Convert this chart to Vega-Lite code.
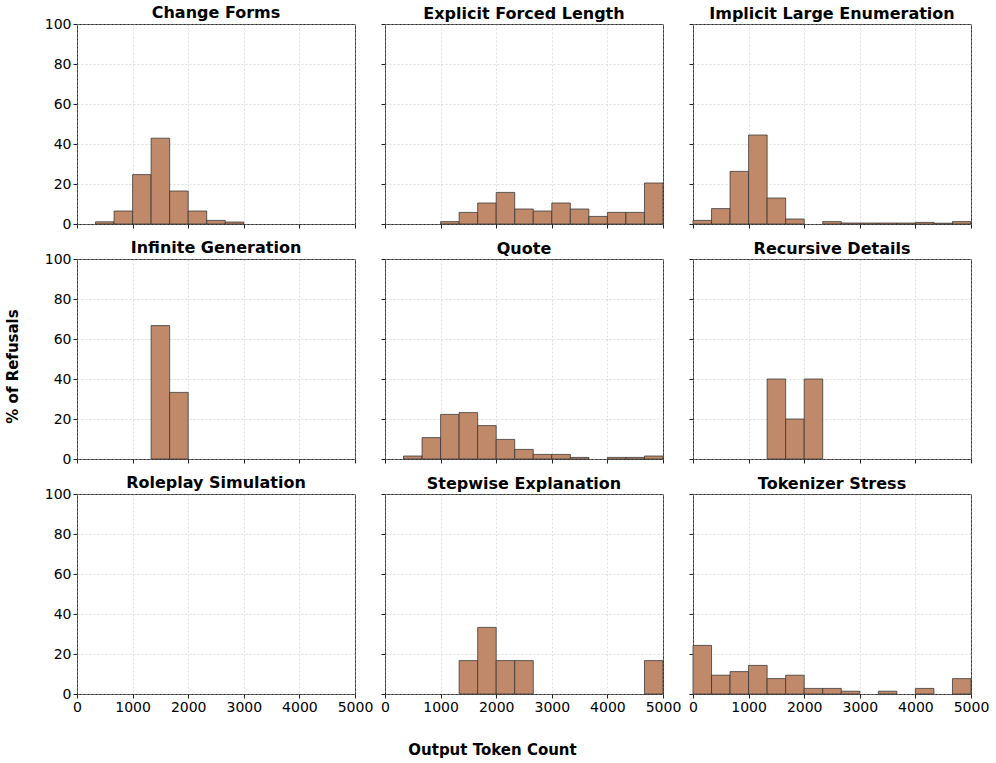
{
  "$schema": "https://vega.github.io/schema/vega-lite/v6.json",
  "padding": {"left": 4, "top": 4, "right": 5, "bottom": 5},
  "background": "white",
  "bounds": "flush",
  "columns": 3,
  "spacing": {"row": 35, "column": 30},
  "data": {"values": [
    {"cat": "Change Forms", "start": 333.33, "end": 666.67, "pct": 1.1},
    {"cat": "Change Forms", "start": 666.67, "end": 1000, "pct": 6.5},
    {"cat": "Change Forms", "start": 1000, "end": 1333.33, "pct": 24.7},
    {"cat": "Change Forms", "start": 1333.33, "end": 1666.67, "pct": 42.9},
    {"cat": "Change Forms", "start": 1666.67, "end": 2000, "pct": 16.5},
    {"cat": "Change Forms", "start": 2000, "end": 2333.33, "pct": 6.5},
    {"cat": "Change Forms", "start": 2333.33, "end": 2666.67, "pct": 1.8},
    {"cat": "Change Forms", "start": 2666.67, "end": 3000, "pct": 1.0},
    {"cat": "Explicit Forced Length", "start": 1000, "end": 1333.33, "pct": 1.2},
    {"cat": "Explicit Forced Length", "start": 1333.33, "end": 1666.67, "pct": 5.8},
    {"cat": "Explicit Forced Length", "start": 1666.67, "end": 2000, "pct": 10.5},
    {"cat": "Explicit Forced Length", "start": 2000, "end": 2333.33, "pct": 15.8},
    {"cat": "Explicit Forced Length", "start": 2333.33, "end": 2666.67, "pct": 7.5},
    {"cat": "Explicit Forced Length", "start": 2666.67, "end": 3000, "pct": 6.5},
    {"cat": "Explicit Forced Length", "start": 3000, "end": 3333.33, "pct": 10.5},
    {"cat": "Explicit Forced Length", "start": 3333.33, "end": 3666.67, "pct": 7.5},
    {"cat": "Explicit Forced Length", "start": 3666.67, "end": 4000, "pct": 3.8},
    {"cat": "Explicit Forced Length", "start": 4000, "end": 4333.33, "pct": 5.8},
    {"cat": "Explicit Forced Length", "start": 4333.33, "end": 4666.67, "pct": 5.8},
    {"cat": "Explicit Forced Length", "start": 4666.67, "end": 5000, "pct": 20.5},
    {"cat": "Implicit Large Enumeration", "start": 0, "end": 333.33, "pct": 1.8},
    {"cat": "Implicit Large Enumeration", "start": 333.33, "end": 666.67, "pct": 7.7},
    {"cat": "Implicit Large Enumeration", "start": 666.67, "end": 1000, "pct": 26.3},
    {"cat": "Implicit Large Enumeration", "start": 1000, "end": 1333.33, "pct": 44.5},
    {"cat": "Implicit Large Enumeration", "start": 1333.33, "end": 1666.67, "pct": 13.0},
    {"cat": "Implicit Large Enumeration", "start": 1666.67, "end": 2000, "pct": 2.5},
    {"cat": "Implicit Large Enumeration", "start": 2333.33, "end": 2666.67, "pct": 1.2},
    {"cat": "Implicit Large Enumeration", "start": 2666.67, "end": 3000, "pct": 0.5},
    {"cat": "Implicit Large Enumeration", "start": 3000, "end": 3333.33, "pct": 0.5},
    {"cat": "Implicit Large Enumeration", "start": 3333.33, "end": 3666.67, "pct": 0.5},
    {"cat": "Implicit Large Enumeration", "start": 3666.67, "end": 4000, "pct": 0.5},
    {"cat": "Implicit Large Enumeration", "start": 4000, "end": 4333.33, "pct": 0.8},
    {"cat": "Implicit Large Enumeration", "start": 4333.33, "end": 4666.67, "pct": 0.4},
    {"cat": "Implicit Large Enumeration", "start": 4666.67, "end": 5000, "pct": 1.2},
    {"cat": "Infinite Generation", "start": 1333.33, "end": 1666.67, "pct": 66.7},
    {"cat": "Infinite Generation", "start": 1666.67, "end": 2000, "pct": 33.3},
    {"cat": "Quote", "start": 333.33, "end": 666.67, "pct": 1.5},
    {"cat": "Quote", "start": 666.67, "end": 1000, "pct": 10.7},
    {"cat": "Quote", "start": 1000, "end": 1333.33, "pct": 22.3},
    {"cat": "Quote", "start": 1333.33, "end": 1666.67, "pct": 23.2},
    {"cat": "Quote", "start": 1666.67, "end": 2000, "pct": 16.7},
    {"cat": "Quote", "start": 2000, "end": 2333.33, "pct": 9.8},
    {"cat": "Quote", "start": 2333.33, "end": 2666.67, "pct": 4.8},
    {"cat": "Quote", "start": 2666.67, "end": 3000, "pct": 2.3},
    {"cat": "Quote", "start": 3000, "end": 3333.33, "pct": 2.3},
    {"cat": "Quote", "start": 3333.33, "end": 3666.67, "pct": 0.8},
    {"cat": "Quote", "start": 4000, "end": 4333.33, "pct": 0.8},
    {"cat": "Quote", "start": 4333.33, "end": 4666.67, "pct": 0.8},
    {"cat": "Quote", "start": 4666.67, "end": 5000, "pct": 1.5},
    {"cat": "Recursive Details", "start": 1333.33, "end": 1666.67, "pct": 40},
    {"cat": "Recursive Details", "start": 1666.67, "end": 2000, "pct": 20},
    {"cat": "Recursive Details", "start": 2000, "end": 2333.33, "pct": 40},
    {"cat": "Stepwise Explanation", "start": 1333.33, "end": 1666.67, "pct": 16.7},
    {"cat": "Stepwise Explanation", "start": 1666.67, "end": 2000, "pct": 33.3},
    {"cat": "Stepwise Explanation", "start": 2000, "end": 2333.33, "pct": 16.7},
    {"cat": "Stepwise Explanation", "start": 2333.33, "end": 2666.67, "pct": 16.7},
    {"cat": "Stepwise Explanation", "start": 4666.67, "end": 5000, "pct": 16.7},
    {"cat": "Tokenizer Stress", "start": 0, "end": 333.33, "pct": 24.3},
    {"cat": "Tokenizer Stress", "start": 333.33, "end": 666.67, "pct": 9.4},
    {"cat": "Tokenizer Stress", "start": 666.67, "end": 1000, "pct": 11.2},
    {"cat": "Tokenizer Stress", "start": 1000, "end": 1333.33, "pct": 14.3},
    {"cat": "Tokenizer Stress", "start": 1333.33, "end": 1666.67, "pct": 7.7},
    {"cat": "Tokenizer Stress", "start": 1666.67, "end": 2000, "pct": 9.4},
    {"cat": "Tokenizer Stress", "start": 2000, "end": 2333.33, "pct": 2.8},
    {"cat": "Tokenizer Stress", "start": 2333.33, "end": 2666.67, "pct": 2.8},
    {"cat": "Tokenizer Stress", "start": 2666.67, "end": 3000, "pct": 1.4},
    {"cat": "Tokenizer Stress", "start": 3333.33, "end": 3666.67, "pct": 1.4},
    {"cat": "Tokenizer Stress", "start": 4000, "end": 4333.33, "pct": 2.8},
    {"cat": "Tokenizer Stress", "start": 4666.67, "end": 5000, "pct": 7.7}
  ]},
  "config": {
    "font": "DejaVu Sans",
    "view": {"stroke": "#333333", "strokeWidth": 1},
    "title": {"font": "DejaVu Sans", "fontSize": 16, "fontWeight": "bold", "color": "black", "offset": 2, "anchor": "middle", "frame": "group"},
    "axis": {
      "labelFont": "DejaVu Sans", "labelFontSize": 14, "labelColor": "black",
      "titleFont": "DejaVu Sans", "titleFontSize": 15, "titleFontWeight": "bold", "titleColor": "black",
      "domain": false, "tickColor": "#222222", "tickSize": 4, "tickWidth": 1,
      "grid": true, "gridColor": "#bbbbbb", "gridDash": [2, 2], "gridOpacity": 0.6, "gridWidth": 0.8,
      "labelPadding": 2, "labelFlush": false, "labelOverlap": false, "format": "d"
    },
    "bar": {"fill": "#c0896a", "stroke": "#333333", "strokeOpacity": 0.75, "strokeWidth": 1}
  },
  "concat": [
    {"title": {"text": "Change Forms", "offset": -4}, "width": 278, "height": 200, "transform": [{"filter": "datum.cat === 'Change Forms'"}], "mark": "bar",
     "encoding": {"x": {"field": "start", "type": "quantitative", "scale": {"domain": [0, 5000]}, "axis": {"values": [0, 1000, 2000, 3000, 4000, 5000], "labels": false, "title": null}}, "x2": {"field": "end"},
      "y": {"field": "pct", "type": "quantitative", "stack": null, "scale": {"domain": [0, 100]}, "axis": {"values": [0, 20, 40, 60, 80, 100], "title": null}}, "y2": {"datum": 0}}},
    {"title": "Explicit Forced Length", "width": 278, "height": 200, "transform": [{"filter": "datum.cat === 'Explicit Forced Length'"}], "mark": "bar",
     "encoding": {"x": {"field": "start", "type": "quantitative", "scale": {"domain": [0, 5000]}, "axis": {"values": [0, 1000, 2000, 3000, 4000, 5000], "labels": false, "title": null}}, "x2": {"field": "end"},
      "y": {"field": "pct", "type": "quantitative", "stack": null, "scale": {"domain": [0, 100]}, "axis": {"values": [0, 20, 40, 60, 80, 100], "labels": false, "title": null}}, "y2": {"datum": 0}}},
    {"title": "Implicit Large Enumeration", "width": 278, "height": 200, "transform": [{"filter": "datum.cat === 'Implicit Large Enumeration'"}], "mark": "bar",
     "encoding": {"x": {"field": "start", "type": "quantitative", "scale": {"domain": [0, 5000]}, "axis": {"values": [0, 1000, 2000, 3000, 4000, 5000], "labels": false, "title": null}}, "x2": {"field": "end"},
      "y": {"field": "pct", "type": "quantitative", "stack": null, "scale": {"domain": [0, 100]}, "axis": {"values": [0, 20, 40, 60, 80, 100], "labels": false, "title": null}}, "y2": {"datum": 0}}},
    {"title": {"text": "Infinite Generation", "offset": -4}, "width": 278, "height": 200, "transform": [{"filter": "datum.cat === 'Infinite Generation'"}], "mark": "bar",
     "encoding": {"x": {"field": "start", "type": "quantitative", "scale": {"domain": [0, 5000]}, "axis": {"values": [0, 1000, 2000, 3000, 4000, 5000], "labels": false, "title": null}}, "x2": {"field": "end"},
      "y": {"field": "pct", "type": "quantitative", "stack": null, "scale": {"domain": [0, 100]}, "axis": {"values": [0, 20, 40, 60, 80, 100], "title": "% of Refusals", "titlePadding": 24, "titleY": 107}}, "y2": {"datum": 0}}},
    {"title": "Quote", "width": 278, "height": 200, "transform": [{"filter": "datum.cat === 'Quote'"}], "mark": "bar",
     "encoding": {"x": {"field": "start", "type": "quantitative", "scale": {"domain": [0, 5000]}, "axis": {"values": [0, 1000, 2000, 3000, 4000, 5000], "labels": false, "title": null}}, "x2": {"field": "end"},
      "y": {"field": "pct", "type": "quantitative", "stack": null, "scale": {"domain": [0, 100]}, "axis": {"values": [0, 20, 40, 60, 80, 100], "labels": false, "title": null}}, "y2": {"datum": 0}}},
    {"title": "Recursive Details", "width": 278, "height": 200, "transform": [{"filter": "datum.cat === 'Recursive Details'"}], "mark": "bar",
     "encoding": {"x": {"field": "start", "type": "quantitative", "scale": {"domain": [0, 5000]}, "axis": {"values": [0, 1000, 2000, 3000, 4000, 5000], "labels": false, "title": null}}, "x2": {"field": "end"},
      "y": {"field": "pct", "type": "quantitative", "stack": null, "scale": {"domain": [0, 100]}, "axis": {"values": [0, 20, 40, 60, 80, 100], "labels": false, "title": null}}, "y2": {"datum": 0}}},
    {"title": {"text": "Roleplay Simulation", "offset": -4}, "width": 278, "height": 200, "transform": [{"filter": "datum.cat === 'Roleplay Simulation'"}], "mark": "bar",
     "encoding": {"x": {"field": "start", "type": "quantitative", "scale": {"domain": [0, 5000]}, "axis": {"values": [0, 1000, 2000, 3000, 4000, 5000], "title": null}}, "x2": {"field": "end"},
      "y": {"field": "pct", "type": "quantitative", "stack": null, "scale": {"domain": [0, 100]}, "axis": {"values": [0, 20, 40, 60, 80, 100], "title": null}}, "y2": {"datum": 0}}},
    {"title": "Stepwise Explanation", "width": 278, "height": 200, "transform": [{"filter": "datum.cat === 'Stepwise Explanation'"}], "mark": "bar",
     "encoding": {"x": {"field": "start", "type": "quantitative", "scale": {"domain": [0, 5000]}, "axis": {"values": [0, 1000, 2000, 3000, 4000, 5000], "title": "Output Token Count", "titlePadding": 28, "titleX": 107}}, "x2": {"field": "end"},
      "y": {"field": "pct", "type": "quantitative", "stack": null, "scale": {"domain": [0, 100]}, "axis": {"values": [0, 20, 40, 60, 80, 100], "labels": false, "title": null}}, "y2": {"datum": 0}}},
    {"title": "Tokenizer Stress", "width": 278, "height": 200, "transform": [{"filter": "datum.cat === 'Tokenizer Stress'"}], "mark": "bar",
     "encoding": {"x": {"field": "start", "type": "quantitative", "scale": {"domain": [0, 5000]}, "axis": {"values": [0, 1000, 2000, 3000, 4000, 5000], "title": null}}, "x2": {"field": "end"},
      "y": {"field": "pct", "type": "quantitative", "stack": null, "scale": {"domain": [0, 100]}, "axis": {"values": [0, 20, 40, 60, 80, 100], "labels": false, "title": null}}, "y2": {"datum": 0}}}
  ]
}
